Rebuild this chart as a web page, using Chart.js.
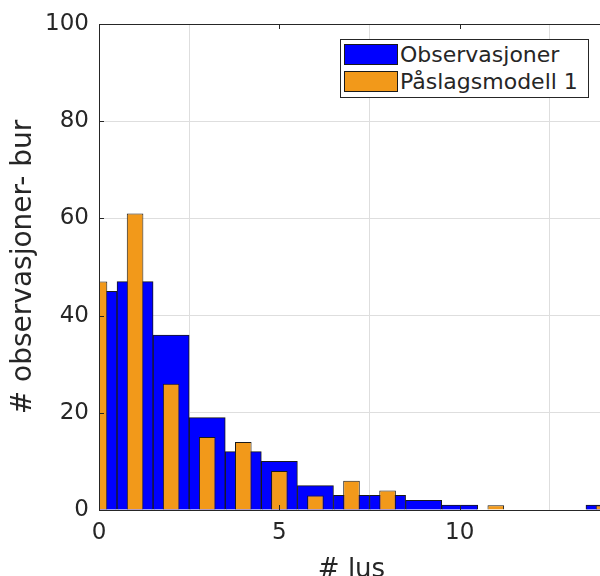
<!DOCTYPE html>
<html>
<head>
<meta charset="utf-8">
<title>Histogram lus</title>
<script src="https://cdn.jsdelivr.net/npm/chart.js@4.4.1/dist/chart.umd.min.js"></script>
<style>
    html, body { margin: 0; padding: 0; background: #fff; overflow: hidden; }
    #wrap { position: relative; width: 612px; height: 600px; }
    #legend {
        position: absolute; left: 340px; top: 39px; width: 247px; height: 57px;
        border: 1px solid #262626; background: #fff;
        font-family: 'DejaVu Sans', sans-serif; font-size: 22px; color: #262626;
    }
    .row { position: absolute; left: 3px; height: 22px; line-height: 22px; white-space: nowrap; }
    .swatch { display: inline-block; width: 52px; height: 19px; border: 1px solid #1a1a1a; vertical-align: top; margin-right: 2px; }
</style>
</head>
<body>
<div id="wrap">
    <canvas id="histChart" width="612" height="600"></canvas>
    <div id="legend">
        <div class="row" style="top:4px"><span class="swatch" style="background:#0000ff"></span>Observasjoner</div>
        <div class="row" style="top:31px"><span class="swatch" style="background:#f2991a"></span>Påslagsmodell 1</div>
    </div>
</div>
<script>
// ==========================================
// Data
// ==========================================
const lusCounts = [0, 1, 2, 3, 4, 5, 6, 7, 8, 9, 10, 11, 12, 13, 14];
const observasjoner = [45, 47, 36, 19, 12, 10, 5, 3, 3, 2, 1, 0, 0, 0, 1];
const paslagsmodell1 = [47, 61, 26, 15, 14, 8, 3, 6, 4, 0, 0, 1, 0, 0, 1];
const xTicks = [0, 5, 10];
const yTicks = [0, 20, 40, 60, 80, 100];

const axisColor = '#262626';
const gridColor = '#dedede';
const font = 'DejaVu Sans';

// MATLAB style box with inward tick marks, drawn over the bars
const axesBox = {
    id: 'axesBox',
    afterDatasetsDraw(chart) {
        const { ctx, chartArea: a, scales } = chart;
        ctx.save();
        ctx.strokeStyle = axisColor;
        ctx.lineWidth = 1;
        ctx.beginPath();
        ctx.rect(Math.round(a.left) + 0.5, Math.round(a.top) + 0.5,
                 Math.round(a.right - a.left), Math.round(a.bottom - a.top));
        xTicks.forEach(v => {
            const px = Math.round(scales.x.getPixelForValue(v)) + 0.5;
            ctx.moveTo(px, a.bottom); ctx.lineTo(px, a.bottom - 5);
            ctx.moveTo(px, a.top); ctx.lineTo(px, a.top + 5);
        });
        yTicks.forEach(v => {
            const py = Math.round(scales.y.getPixelForValue(v)) + 0.5;
            ctx.moveTo(a.left, py); ctx.lineTo(a.left + 5, py);
        });
        ctx.stroke();
        ctx.restore();
    }
};

const ctx = document.getElementById('histChart');
new Chart(ctx, {
    type: 'bar',
    data: {
        datasets: [
            {
                // listed first so it is drawn on top of the blue bars
                label: 'Påslagsmodell 1',
                data: lusCounts.map((x, i) => ({ x: x, y: paslagsmodell1[i] })),
                backgroundColor: '#f2991a',
                borderColor: '#1a1a1a',
                borderWidth: 1,
                grouped: false,
                barPercentage: 0.46,
                categoryPercentage: 1,
                clip: 0
            },
            {
                label: 'Observasjoner',
                data: lusCounts.map((x, i) => ({ x: x, y: observasjoner[i] })),
                backgroundColor: '#0000ff',
                borderColor: '#1a1a1a',
                borderWidth: 1,
                grouped: false,
                barPercentage: 1,
                categoryPercentage: 1,
                clip: 0
            }
        ]
    },
    options: {
        responsive: false,
        animation: false,
        layout: { padding: { top: 24, right: 8, left: 0, bottom: 0 } },
        plugins: {
            legend: { display: false },
            tooltip: { enabled: false }
        },
        scales: {
            x: {
                type: 'linear',
                min: 0,
                max: 14,
                offset: false,
                afterBuildTicks: s => { s.ticks = xTicks.map(v => ({ value: v })); },
                afterFit: s => { s.height = 90; },
                grid: { color: gridColor, drawTicks: false },
                border: { display: false },
                ticks: { padding: 9, color: axisColor, font: { family: font, size: 23 } },
                title: {
                    display: true,
                    text: '# lus',
                    color: axisColor,
                    font: { family: font, size: 26 },
                    padding: { top: 0, bottom: 14 }
                }
            },
            y: {
                min: 0,
                max: 100,
                afterBuildTicks: s => { s.ticks = yTicks.map(v => ({ value: v })); },
                afterFit: s => { s.width = 99; },
                grid: { color: gridColor, drawTicks: false },
                border: { display: false },
                ticks: { padding: 10, color: axisColor, font: { family: font, size: 23 } },
                title: {
                    display: true,
                    text: '# observasjoner- bur',
                    color: axisColor,
                    font: { family: font, size: 28 },
                    padding: { top: 7, bottom: 0 }
                }
            }
        }
    },
    plugins: [axesBox]
});
</script>
</body>
</html>
